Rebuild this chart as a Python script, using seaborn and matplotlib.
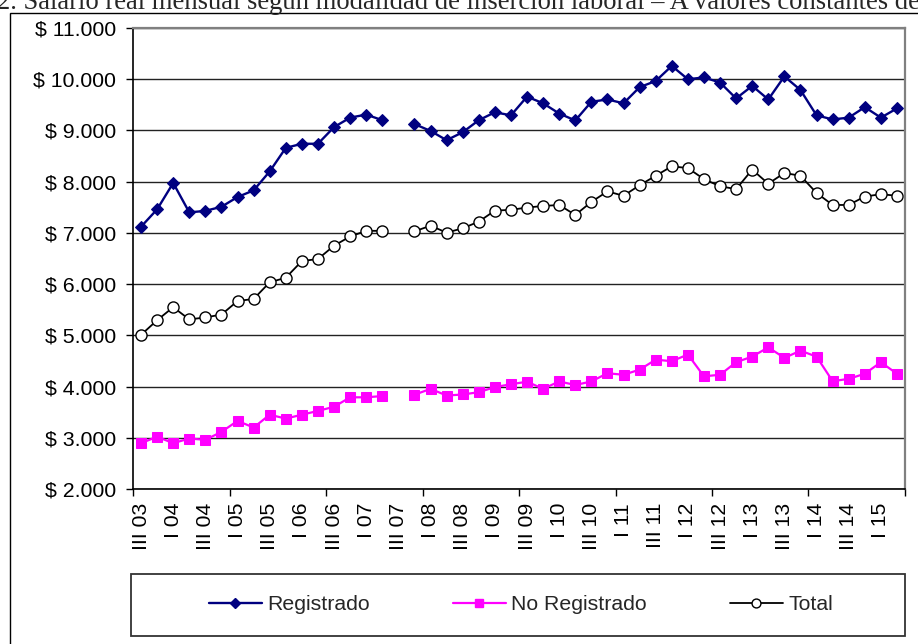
import numpy as np
import pandas as pd
import seaborn as sns
import matplotlib
matplotlib.use("Agg")
import matplotlib.pyplot as plt
from matplotlib.lines import Line2D
from matplotlib.patches import Rectangle
from matplotlib.ticker import FuncFormatter, FixedLocator

# Datos: trimestres III 03 .. II 15 (48 trimestres), sin dato en III 07
ETIQUETAS_X = ["III 03", "I 04", "III 04", "I 05", "III 05", "I 06", "III 06", "I 07",
               "III 07", "I 08", "III 08", "I 09", "III 09", "I 10", "III 10", "I 11",
               "III 11", "I 12", "III 12", "I 13", "III 13", "I 14", "III 14", "I 15"]

REGISTRADO = [7120, 7460, 7975, 7400, 7430, 7510, 7700, 7830, 8200, 8660, 8740, 8740,
              9065, 9250, 9310, 9200, np.nan, 9125, 8990, 8810, 8965, 9200, 9355, 9295,
              9660, 9530, 9330, 9195, 9560, 9605, 9530, 9845, 9965, 10260, 10000, 10035,
              9935, 9625, 9870, 9605, 10055, 9790, 9295, 9215, 9250, 9455, 9250, 9430]

NO_REGISTRADO = [2895, 3020, 2895, 2985, 2960, 3115, 3330, 3200, 3450, 3375, 3450, 3525,
                 3605, 3790, 3790, 3815, np.nan, 3840, 3955, 3825, 3845, 3890, 3990, 4045,
                 4095, 3955, 4100, 4030, 4100, 4260, 4230, 4330, 4525, 4495, 4625, 4200,
                 4230, 4475, 4585, 4765, 4560, 4700, 4585, 4105, 4150, 4250, 4475, 4250]

TOTAL = [5010, 5295, 5550, 5310, 5350, 5405, 5670, 5710, 6035, 6125, 6450, 6490,
         6750, 6930, 7040, 7040, np.nan, 7030, 7140, 7005, 7090, 7220, 7435, 7450,
         7495, 7525, 7545, 7350, 7605, 7810, 7725, 7930, 8115, 8300, 8265, 8050,
         7910, 7855, 8235, 7960, 8170, 8115, 7780, 7545, 7545, 7710, 7755, 7725]

SERIES = {"Registrado": REGISTRADO, "No Registrado": NO_REGISTRADO, "Total": TOTAL}
ESTILOS = {
    "Registrado": dict(color="#000080", marker="D", markersize=6, markerfacecolor="#000080",
                       markeredgecolor="#000080", linewidth=1.7),
    "No Registrado": dict(color="#FF00FF", marker="s", markersize=6.5, markerfacecolor="#FF00FF",
                          markeredgecolor="#FF00FF", linewidth=1.6),
    "Total": dict(color="black", marker="o", markersize=8, markerfacecolor="white",
                  markeredgecolor="black", markeredgewidth=1.0, linewidth=1.3),
}

# Tabla larga; "tramo" separa los puntos antes y despues del hueco
n = len(TOTAL)
filas = []
for nombre, valores in SERIES.items():
    for i, v in enumerate(valores):
        if not np.isnan(v):
            filas.append({"pos": i, "valor": v, "serie": nombre, "tramo": int(i > 16)})
df = pd.DataFrame(filas)

sns.set_theme(style="white")
plt.rcParams["font.family"] = ["Liberation Sans", "DejaVu Sans"]

fig = plt.figure(figsize=(9.18, 6.44), dpi=100)
ax = fig.add_axes([133 / 918, 1 - 489 / 644, (905 - 133) / 918, (489 - 28) / 644])

for nombre in ["Total", "No Registrado", "Registrado"]:
    sns.lineplot(data=df[df["serie"] == nombre], x="pos", y="valor", units="tramo",
                 estimator=None, ax=ax, legend=False, **ESTILOS[nombre])

ax.set_xlim(-0.5, n - 0.5)
ax.set_ylim(2000, 11000)
ax.set_xlabel("")
ax.set_ylabel("")

# Eje Y
ax.set_yticks(np.arange(2000, 11001, 1000))
ax.yaxis.set_major_formatter(FuncFormatter(lambda v, p: "$ " + f"{int(v):,}".replace(",", ".")))
ax.tick_params(axis="y", which="major", left=True, length=5, width=1, pad=7,
               labelsize=15.3, colors="black")
ax.grid(axis="y", color="#222222", linewidth=1.0)
ax.grid(axis="x", visible=False)

# Eje X: etiquetas cada 2 trimestres, marcas cada 6
ax.xaxis.set_major_locator(FixedLocator(np.arange(0, n, 2)))
ax.set_xticklabels(ETIQUETAS_X, rotation=90)
ax.xaxis.set_minor_locator(FixedLocator(np.arange(-0.5, n, 6)))
ax.tick_params(axis="x", which="major", bottom=True, length=0, pad=10, labelsize=15.3,
               colors="black")
ax.tick_params(axis="x", which="minor", bottom=True, length=5, width=1, color="black")

for lado in ["left", "bottom"]:
    ax.spines[lado].set_color("black")
    ax.spines[lado].set_linewidth(1.2)
for lado in ["top", "right"]:
    ax.spines[lado].set_color("#808080")
    ax.spines[lado].set_linewidth(1.6)

# Marco exterior del grafico
fig.add_artist(Rectangle((10 / 918, -0.05), 1.0, 1 - 13 / 644 + 0.05,
                         transform=fig.transFigure, fill=False, ec="black", lw=1.0))

# Recuadro de la leyenda
fig.add_artist(Rectangle((131 / 918, 1 - 636 / 644), (905 - 131) / 918, (636 - 574) / 644,
                         transform=fig.transFigure, fill=False, ec="#333333", lw=1.3))
handles = []
for nombre in ["Registrado", "No Registrado", "Total"]:
    st = dict(ESTILOS[nombre])
    st["markersize"] = st["markersize"] * 0.8
    handles.append(Line2D([], [], **st))
fig.legend(handles, list(SERIES.keys()), loc="center", ncol=3, frameon=False,
           bbox_to_anchor=((131 + 905) / 2 / 918 + 0.003, 1 - 605 / 644),
           bbox_transform=fig.transFigure, fontsize=15.3, handlelength=2.5,
           handletextpad=0.25, columnspacing=3.9)

# Titulo (recortado en el borde superior, como en la imagen)
fig.text(-0.003, 1 - 9 / 644,
         "2. Salario real mensual según modalidad de inserción laboral – A valores constantes de",
         family=["Liberation Serif", "DejaVu Serif"], fontsize=19.2, va="baseline", ha="left")

fig.savefig("out.png", dpi=100)
